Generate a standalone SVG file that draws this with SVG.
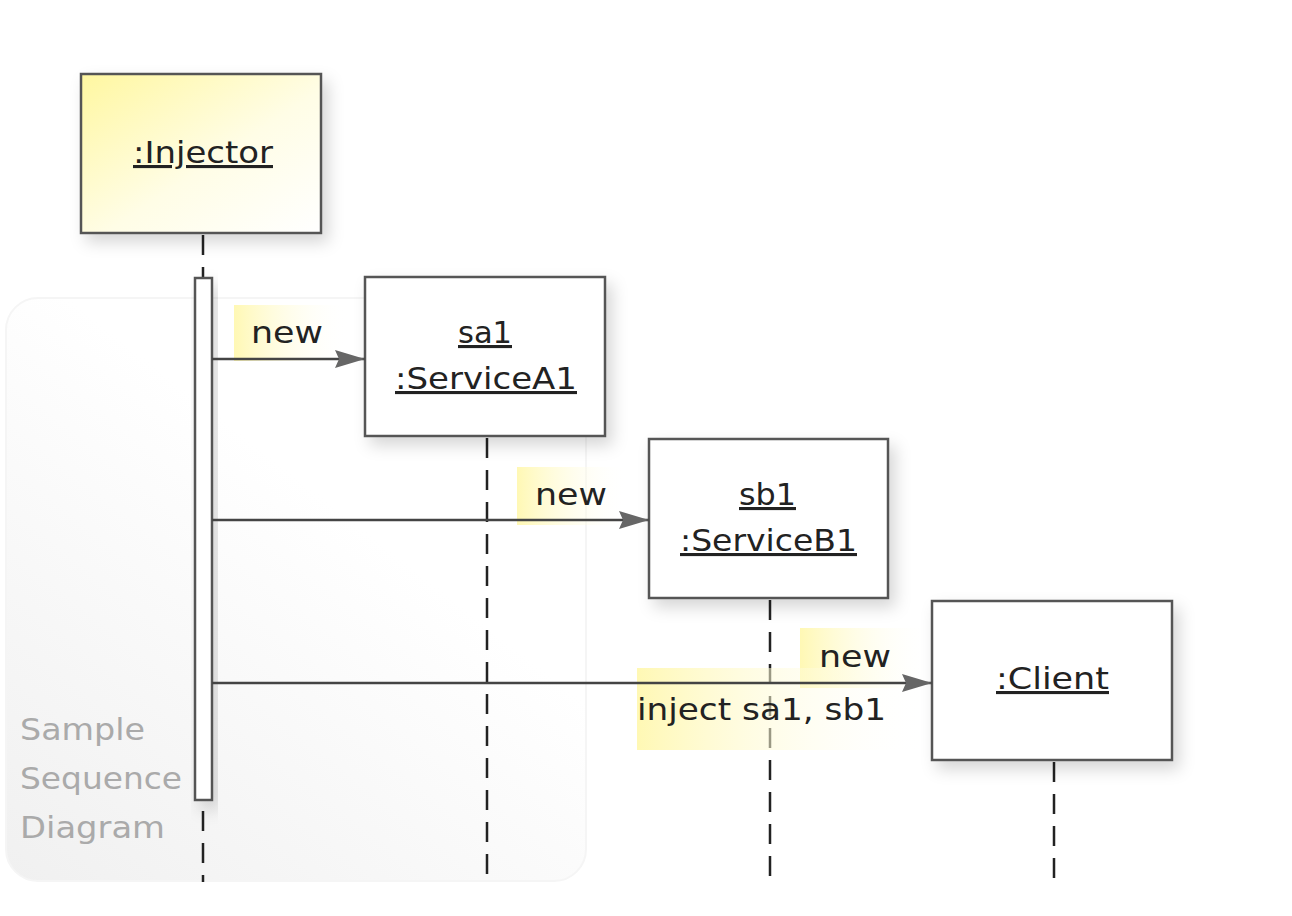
<svg xmlns="http://www.w3.org/2000/svg" width="1292" height="916" viewBox="0 0 1292 916">
<defs>
<style>
.box{fill:#fff;stroke:#555;stroke-width:2.5}
.t{font-family:"DejaVu Sans","Open Sans",sans-serif;font-size:31px;fill:#222}
.u{text-decoration:underline}
.lbl{font-family:"DejaVu Sans","Open Sans",sans-serif;font-size:31px;fill:#222}
.life{stroke:#222;stroke-width:2.5;stroke-dasharray:20,12;fill:none}
.msg{stroke:#444;stroke-width:2.5;fill:none;marker-end:url(#ah)}
.cap{font-family:"DejaVu Sans","Open Sans",sans-serif;font-size:30px;fill:#aaa}
</style>
<linearGradient id="yg" x1="0" y1="0" x2="1" y2="1">
<stop offset="0" stop-color="#fff7a0"/>
<stop offset="0.55" stop-color="#fffde6"/>
<stop offset="1" stop-color="#fff"/>
</linearGradient>
<linearGradient id="hl" x1="0" y1="0" x2="1" y2="0">
<stop offset="0" stop-color="#fff8b4"/>
<stop offset="1" stop-color="#fff" stop-opacity="0"/>
</linearGradient>
<linearGradient id="fg" x1="0.7" y1="0.1" x2="0" y2="1">
<stop offset="0.25" stop-color="#fff"/>
<stop offset="1" stop-color="#f0f0f0"/>
</linearGradient>
<filter id="sh" x="-20%" y="-20%" width="150%" height="150%">
<feDropShadow dx="6" dy="8" stdDeviation="8" flood-color="#000" flood-opacity="0.16"/>
</filter>
<marker id="ah" viewBox="0 0 30 18" refX="30" refY="9" markerWidth="30" markerHeight="18" markerUnits="userSpaceOnUse" orient="auto">
<path d="M0,0 L30,9 L0,18 L4,9 Z" fill="#666"/>
</marker>
</defs>
<rect width="1292" height="916" fill="#fff"/>
<g id="frame">
<rect x="6" y="298" width="580" height="583" rx="32" fill="url(#fg)" stroke="#f5f5f5" stroke-width="2"/>
<text class="cap" x="20" y="740" textLength="125" lengthAdjust="spacingAndGlyphs">Sample</text>
<text class="cap" x="20" y="789" textLength="162" lengthAdjust="spacingAndGlyphs">Sequence</text>
<text class="cap" x="20" y="838" textLength="145" lengthAdjust="spacingAndGlyphs">Diagram</text>
</g>
<g id="lifelines">
<line class="life" x1="203" y1="235" x2="203" y2="882"/>
<line class="life" x1="487" y1="438" x2="487" y2="882"/>
<line class="life" x1="770" y1="600" x2="770" y2="882"/>
<line class="life" x1="1054" y1="762" x2="1054" y2="882"/>
</g>
<g id="injector">
<rect x="81" y="74" width="240" height="159" fill="url(#yg)" stroke="#555" stroke-width="2.5" filter="url(#sh)"/>
<text class="t u" x="133" y="163" textLength="140" lengthAdjust="spacingAndGlyphs">:Injector</text>
</g>
<g id="activation">
<rect x="195" y="278" width="17" height="522" fill="#fff" stroke="#555" stroke-width="2.5" filter="url(#sh)"/>
</g>
<g id="serviceA1">
<rect class="box" x="365" y="277" width="240" height="159" filter="url(#sh)"/>
<text class="t u" x="458" y="343" textLength="54" lengthAdjust="spacingAndGlyphs">sa1</text>
<text class="t u" x="395" y="389" textLength="182" lengthAdjust="spacingAndGlyphs">:ServiceA1</text>
</g>
<g id="serviceB1">
<rect class="box" x="649" y="439" width="239" height="159" filter="url(#sh)"/>
<text class="t u" x="739" y="505" textLength="57" lengthAdjust="spacingAndGlyphs">sb1</text>
<text class="t u" x="680" y="551" textLength="177" lengthAdjust="spacingAndGlyphs">:ServiceB1</text>
</g>
<g id="client">
<rect class="box" x="932" y="601" width="240" height="159" filter="url(#sh)"/>
<text class="t u" x="996" y="689" textLength="113" lengthAdjust="spacingAndGlyphs">:Client</text>
</g>
<g id="labels-bg">
<rect x="234" y="305" width="115" height="56" fill="url(#hl)"/>
<rect x="517" y="467" width="110" height="58" fill="url(#hl)"/>
<rect x="800" y="628" width="130" height="60" fill="url(#hl)"/>
<rect x="637" y="668" width="293" height="82" fill="url(#hl)"/>
</g>
<g id="connectors">
<line class="msg" x1="212" y1="359" x2="365" y2="359"/>
<line class="msg" x1="212" y1="520" x2="649" y2="520"/>
<line class="msg" x1="212" y1="683" x2="932" y2="683"/>
</g>
<g id="labels">
<text class="lbl" x="251" y="343" textLength="72" lengthAdjust="spacingAndGlyphs">new</text>
<text class="lbl" x="535" y="505" textLength="72" lengthAdjust="spacingAndGlyphs">new</text>
<text class="lbl" x="819" y="667" textLength="72" lengthAdjust="spacingAndGlyphs">new</text>
<text class="lbl" x="637" y="720" textLength="249" lengthAdjust="spacingAndGlyphs">inject sa1, sb1</text>
</g>
</svg>
